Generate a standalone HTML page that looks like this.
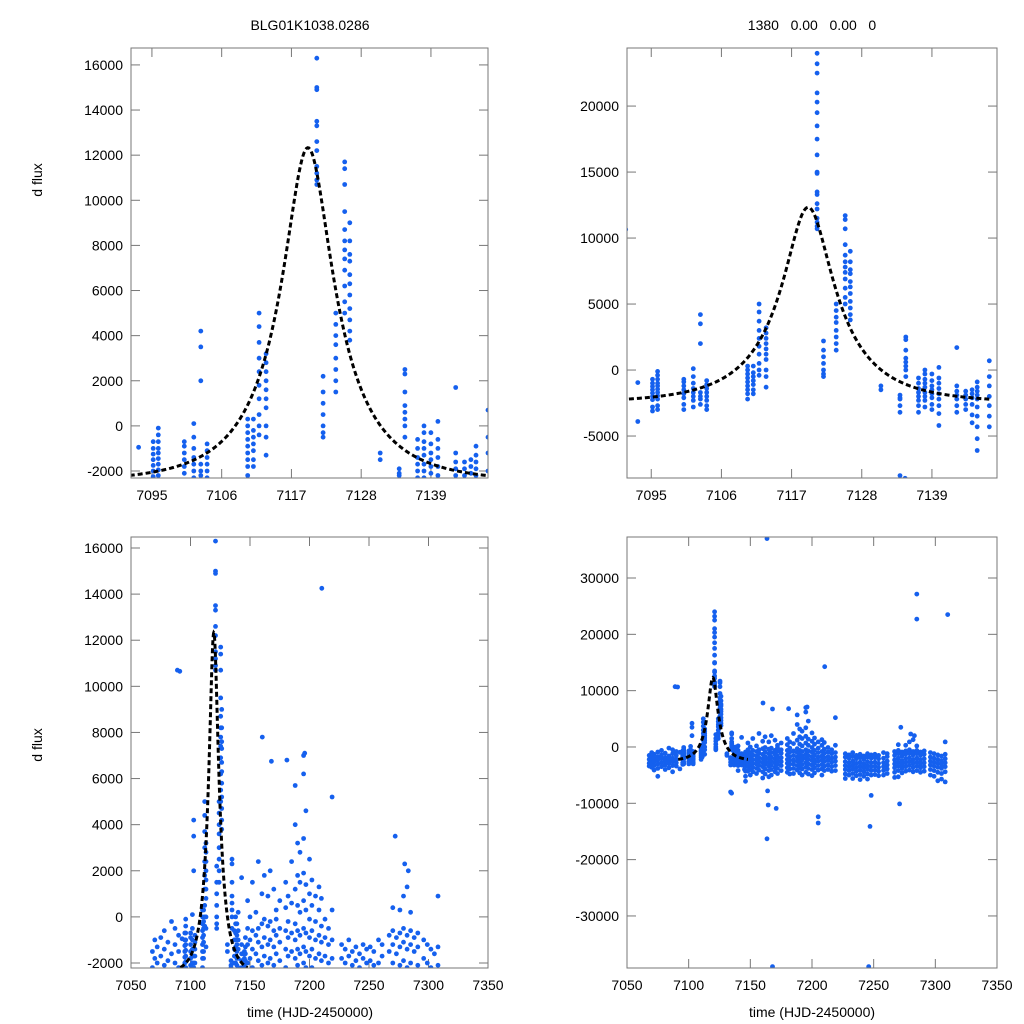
<!DOCTYPE html>
<html><head><meta charset="utf-8">
<style>
html,body{margin:0;padding:0;background:#fff;overflow:hidden;width:1024px;height:1024px;font-family:"Liberation Sans",sans-serif;}
svg{display:block;}
svg text{font-family:"Liberation Sans",sans-serif;font-size:14px;fill:#000;}
</style></head>
<body>
<svg id="chart" width="1024" height="1024" viewBox="0 0 1024 1024" xmlns="http://www.w3.org/2000/svg">
<rect width="1024" height="1024" fill="#fff"/>
<text x="310" y="30" text-anchor="middle">BLG01K1038.0286</text>
<text x="812" y="30" text-anchor="middle" xml:space="preserve">1380   0.00   0.00   0</text>
<text transform="translate(42,180) rotate(-90)" text-anchor="middle">d flux</text>
<text transform="translate(42,745) rotate(-90)" text-anchor="middle">d flux</text>
<text x="310" y="1017" text-anchor="middle">time (HJD-2450000)</text>
<text x="812" y="1017" text-anchor="middle">time (HJD-2450000)</text>
</svg>
<script>
// Photometry near the event: times and flux values per night
const zoomT = [7092.9,7095.2,7096.0,7100.1,7101.6,7102.7,7103.7,7110.1,7111.0,7111.9,7113.0,7121.0,7122.0,7124.0,7125.4,7126.2,7131.0,7134.0,7134.9,7136.9,7137.9,7139.0,7140.1,7142.9,7144.3,7145.3,7146.1];
const zoomF = [
 [-950,-3900],
 [-2250,-2000,-1750,-1500,-1250,-1000,-700,-2800,-3100],
 [-2200,-1950,-1700,-1450,-1200,-1000,-700,-400,-100,-2700,-3000],
 [-2100,-1800,-1500,-1200,-900,-700,-2600,-3000],
 [-2300,-2000,-1700,-1400,-1000,-500,100,-2800],
 [4200,3500,2000,-1700,-2200,-2000,-2600],
 [-2300,-2000,-1700,-1400,-1100,-800,-2700,-3000],
 [-2200,-1800,-1500,-1200,-900,-600,-300,0,300],
 [-1800,-1500,-1100,-800,-500,-200,300],
 [5000,4400,3700,3000,2400,1800,1200,500,0,-400],
 [3200,2800,2400,2000,1600,1200,800,0,-500,-1300],
 [16300,15000,14900,13500,13300,12600,12200,11500,11200,10900,10700,24000,23200,22500,21000,20300,19500,18500,17500],
 [2200,1500,1000,500,0,-300,-500],
 [5000,4500,4000,3600,3000,2500,2000,1500],
 [11700,11400,10700,9500,8700,8200,7800,7400,6900,6200,5500,5000],
 [9000,8200,7600,7300,6700,6300,5800,5200,4700,4200,3800],
 [-1200,-1500],
 [-1900,-2200,-2100,-2700,-3200,-8000],
 [2500,2300,1500,900,600,300,0,-500],
 [-600,-1000,-1400,-1700,-2000,-2300,-2700,-3200],
 [0,-300,-700,-1000,-1300,-1700,-2000,-2300,-2800],
 [-300,-800,-1200,-1500,-1800,-2100,-2600,-3000],
 [200,-600,-1000,-1400,-1800,-2200,-2700,-3300,-4200],
 [1700,-1200,-1600,-1900,-2200,-2700,-3200],
 [-1600,-1900,-2200,-2600,-3000],
 [-1500,-1800,-2100,-2600,-3400,-4000],
 [-900,-1300,-1600,-1900,-2200,-2800,-3500,-4300,-5200,-6100]
];
// Rest of the season
const wideT = [7068,7070,7072,7075,7078,7081,7084,7087,7090,7148,7150,7152,7155,7157,7160,7162,7165,7167,7170,7172,7175,7180,7182,7185,7188,7190,7192,7195,7197,7200,7202,7205,7208,7210,7213,7216,7219,7227,7230,7233,7236,7239,7242,7245,7248,7251,7254,7258,7261,7267,7270,7273,7276,7279,7282,7285,7288,7291,7296,7299,7302,7305,7308];
const wideF = [
 [-1500,-2200,-2900,-3400],
 [-1800,-2400,-2900,-3600,-1000],
 [-1300,-2000,-2600,-3300,-4100],
 [-900,-1700,-2300,-3000,-3800,-5200],
 [-1400,-2100,-2800,-3500,-600],
 [-1100,-1900,-2500,-3200,-4000],
 [-1600,-2300,-2900,-3700,-200],
 [-1200,-2000,-2600,-3300,-500,-4400],
 [-1500,-2200,-2800,-3400,-800],
 [-1200,-2000,-2700,-3500,-4300,-500,700],
 [-1000,-1800,-2500,-3200,-4000,-5000,0],
 [-1400,-2200,-2900,-3600,-4400,-600,1500],
 [-800,-1600,-2300,-3000,-3800,-4700,200],
 [-1100,-1900,-2600,-3300,-4100,-500,2400],
 [-1300,-2100,-2800,-3500,-4400,-5500,-300,1000],
 [-900,-1700,-2400,-3100,-3900,-4800,-100,1800],
 [-1200,-2000,-2700,-3400,-4200,-5300,-400,900],
 [-1000,-1800,-2500,-3200,-4000,-5000,-200,2000],
 [-1300,-2100,-2800,-3600,-4400,-600,1200],
 [-800,-1600,-2300,-3000,-3800,-4700,300,-100],
 [-1100,-1900,-2600,-3300,-4200,-500,700],
 [-600,-1400,-2200,-2900,-3700,-4500,400,1500],
 [-900,-1700,-2400,-3100,-3900,-4800,-200,900],
 [-700,-1500,-2300,-3000,-3800,-4700,600,2400],
 [-1000,-1800,-2500,-3300,-4100,-300,1200,4000],
 [-600,-1400,-2100,-2900,-3700,-4600,500,1800,3200],
 [-800,-1600,-2300,-3100,-3900,-5000,200,1500,2800],
 [-500,-1300,-2000,-2800,-3600,-4500,700,1900,3400,6200],
 [-700,-1500,-2200,-3000,-3800,-4800,300,1400,4600],
 [-900,-1700,-2400,-3200,-4000,-5100,-100,1000,2500],
 [-600,-1400,-2200,-2900,-3700,-4600,500,1600],
 [-1000,-1800,-2500,-3300,-4100,-200,900],
 [-800,-1600,-2300,-3100,-3900,-5000,300,1300],
 [-1100,-1900,-2600,-3400,-4200,-400,800],
 [-900,-1700,-2400,-3200,-4000,-100],
 [-1200,-2000,-2700,-3500,-4300,-500],
 [-1000,-1800,-2500,-3300,-4200,300],
 [-1800,-2600,-3300,-4000,-4800,-5600,-1200],
 [-2000,-2800,-3500,-4200,-5000,-1400],
 [-1700,-2500,-3200,-3900,-4700,-5600,-1000],
 [-2100,-2900,-3600,-4300,-5100,-1500],
 [-1900,-2700,-3400,-4100,-4900,-5800,-1300],
 [-2200,-3000,-3700,-4400,-5200,-1600],
 [-1800,-2600,-3300,-4000,-4800,-5700,-1200],
 [-2000,-2800,-3500,-4200,-5000,-1400],
 [-1900,-2700,-3400,-4100,-4900,-1300],
 [-2100,-2900,-3600,-4300,-5100,-1500],
 [-2000,-2800,-3500,-4200,-5000,-1000],
 [-1700,-2500,-3200,-3900,-4700,-1200],
 [-1500,-2300,-3000,-3700,-4500,-5400,-800],
 [-1200,-2000,-2700,-3400,-4200,-5300,-600,400],
 [-1600,-2400,-3100,-3800,-4600,-900],
 [-1300,-2100,-2800,-3500,-4300,-700,300],
 [-1100,-1900,-2600,-3300,-4100,-500,900],
 [-1400,-2200,-2900,-3600,-4400,-800,1300],
 [-1200,-2000,-2700,-3400,-4200,-600,200],
 [-1500,-2300,-3000,-3700,-4500,-900],
 [-1300,-2100,-2800,-3500,-4300,-700],
 [-1000,-1800,-2500,-3200,-4000,-5000],
 [-1200,-2000,-2700,-3400,-4200,-5200],
 [-1400,-2200,-2900,-3600,-4500,-6000],
 [-1600,-2400,-3100,-3800,-4700,-5700],
 [-1300,-2100,-2800,-3500,-4400,-6200,900]
];
// Isolated outliers
const outT = [7089,7091,7163.5,7160.3,7168,7181,7188,7195,7196,7210.3,7219,7272,7285,7285,7310,7134.8,7164,7164.5,7163.5,7171,7205,7205,7247,7271,7248,7168,7246,7280,7283];
const outF = [10700,10650,37000,7800,6750,6800,5700,7000,7100,14250,5200,3500,27150,22700,23500,-8200,-7800,-10300,-16300,-10900,-12400,-13500,-14100,-10100,-8600,-39000,-39000,2300,2000];
// Microlensing fit parameters: t0, tE, u0, baseline, source flux
const modelT0 = [7119.6];
const modelTE = [13.3];
const modelU0 = [0.3];
const modelBase = [-2500];
const modelFs = [6066];
const modelRange = [7091.5, 7148];

const panels = [
 {name:'zoom-linear', x0:131,x1:488,y0:48,y1:478, xmin:7091.7,xmax:7148, ymin:-2310,ymax:16750, xt:[7095,7106,7117,7128,7139], yt:[-2000,0,2000,4000,6000,8000,10000,12000,14000,16000]},
 {name:'zoom-full', x0:627,x1:997,y0:48,y1:478, xmin:7091.2,xmax:7149.2, ymin:-8180,ymax:24400, xt:[7095,7106,7117,7128,7139], yt:[-5000,0,5000,10000,15000,20000]},
 {name:'season-linear', x0:131,x1:488,y0:537,y1:968, xmin:7050,xmax:7350, ymin:-2217,ymax:16477, xt:[7050,7100,7150,7200,7250,7300,7350], yt:[-2000,0,2000,4000,6000,8000,10000,12000,14000,16000]},
 {name:'season-full', x0:627,x1:997,y0:537,y1:968, xmin:7050,xmax:7350, ymin:-39240,ymax:37280, xt:[7050,7100,7150,7200,7250,7300,7350], yt:[-30000,-20000,-10000,0,10000,20000,30000]}
];
const NS='http://www.w3.org/2000/svg';
const svg=document.getElementById('chart');
function mk(tag,attrs,parent){const e=document.createElementNS(NS,tag);for(const k in attrs)e.setAttribute(k,attrs[k]);(parent||svg).appendChild(e);return e;}
function model(t){const tau=(t-modelT0[0])/modelTE[0];const u2=modelU0[0]*modelU0[0]+tau*tau;const A=(u2+2)/Math.sqrt(u2*(u2+4));return modelBase[0]+modelFs[0]*(A-1);}

panels.forEach((p,pi)=>{
 const sx=v=>p.x0+(v-p.xmin)/(p.xmax-p.xmin)*(p.x1-p.x0);
 const sy=v=>p.y1-(v-p.ymin)/(p.ymax-p.ymin)*(p.y1-p.y0);
 const g=mk('g',{});
 
 
 const cp=mk('clipPath',{id:'cp'+pi},g);
 mk('rect',{x:p.x0,y:p.y0,width:p.x1-p.x0,height:p.y1-p.y0},cp);
 p.yt.forEach(v=>{const y=sy(v);
  const t1=mk('line',{x1:p.x0,x2:p.x0+9,y1:y,y2:y,stroke:'#777','stroke-width':1},g);
  
  
  mk('line',{x1:p.x1-9,x2:p.x1,y1:y,y2:y,stroke:'#777','stroke-width':1},g);
  const tx=mk('text',{x:p.x0-8,y:y+5,'text-anchor':'end'},g);tx.textContent=v;
  
  
 });
 p.xt.forEach(v=>{const x=sx(v);
  mk('line',{x1:x,x2:x,y1:p.y1,y2:p.y1-9,stroke:'#777','stroke-width':1},g);
  const t2=mk('line',{x1:x,x2:x,y1:p.y0,y2:p.y0+9,stroke:'#777','stroke-width':1},g);
  
  
  const tx=mk('text',{x:x,y:p.y1+22,'text-anchor':'middle'},g);tx.textContent=v;
  
  
 });
 const pts=mk('g',{'clip-path':'url(#cp'+pi+')',fill:'#1560ee'},g);
 
 
 const add=(t,f)=>{
  const x=sx(t),y=sy(f);
  if(x<p.x0-3||x>p.x1+3||y<p.y0-3||y>p.y1+3) return;
  const c=mk('circle',{cx:x.toFixed(1),cy:y.toFixed(1),r:2.4},pts);
  
  };
 zoomT.forEach((t,i)=>zoomF[i].forEach(f=>add(t,f)));
 wideT.forEach((t,i)=>wideF[i].forEach(f=>add(t,f)));
 outT.forEach((t,i)=>add(t,outF[i]));
 let d='';const n=300;let started=false;
 for(let k=0;k<=n;k++){const t=modelRange[0]+(modelRange[1]-modelRange[0])*k/n;
  let x=sx(t),y=sy(model(t));
  if(x<p.x0-3||x>p.x1+3) continue;
  y=Math.min(Math.max(y,p.y0-3),p.y1+3);
  d+=(started?'L':'M')+x.toFixed(2)+','+y.toFixed(2);started=true;}
 const path=mk('path',{d:d,fill:'none',stroke:'#000','stroke-width':3,'stroke-dasharray':'5,3','clip-path':'url(#cp'+pi+')'},g);
 
 
 const fr=mk('rect',{x:p.x0,y:p.y0,width:p.x1-p.x0,height:p.y1-p.y0,fill:'none',stroke:'#777','stroke-width':1},g);
 
 
});
</script>
</body></html>
